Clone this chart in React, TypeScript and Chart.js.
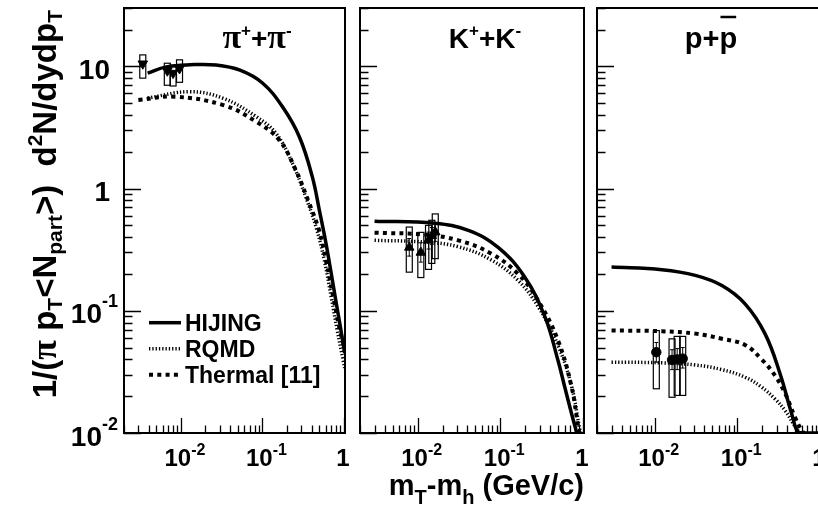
import React, { useEffect, useRef } from "react";
import { Chart, registerables } from "chart.js";

Chart.register(...registerables);

// ---------- axis ranges and ticks ----------
const X_MIN = 0.002;
const X_MAX = 1.03;
const Y_MIN = 0.01;
const Y_MAX = 30;

const xTickValues = [0.01, 0.1, 1];
const xTickBase = ["10", "10", "1"];
const xTickSup = ["-2", "-1", ""];
const yTickValues = [0.01, 0.1, 1, 10];
const yTickBase = ["10", "10", "1", "10"];
const yTickSup = ["-2", "-1", "", ""];

const seriesNames = ["HIJING", "RQMD", "Thermal [11]"];

// ---------- pi+ + pi- ----------
const piHijingX = [0.0039, 0.0066, 0.013, 0.027, 0.053, 0.1, 0.177, 0.285, 0.41, 0.5, 0.6, 0.7, 0.8, 0.9, 1.02];
const piHijingY = [8.8, 9.9, 10.3, 10.25, 9.3, 7.3, 4.64, 2.63, 1.24, 0.66, 0.36, 0.2, 0.118, 0.075, 0.045];
const piRqmdX = [0.0039, 0.0129, 0.033, 0.084, 0.147, 0.234, 0.34, 0.459, 0.575, 0.7, 0.828, 0.98, 1.02];
const piRqmdY = [5.5, 6.2, 5.47, 3.87, 2.82, 1.6, 0.853, 0.473, 0.258, 0.128, 0.069, 0.039, 0.034];
const piThermX = [0.003, 0.0083, 0.033, 0.084, 0.161, 0.257, 0.374, 0.495, 0.608, 0.741, 0.877, 0.995];
const piThermY = [5.3, 5.64, 4.82, 3.52, 2.49, 1.41, 0.76, 0.455, 0.249, 0.129, 0.073, 0.052];
const piDataX = [0.0034, 0.0068, 0.008, 0.0096];
const piDataY = [10.5, 9.2, 8.8, 9.6];
const piSysLo = [8.0, 7.0, 6.9, 7.4];
const piSysHi = [12.4, 10.6, 10.2, 11.3];

// ---------- K+ + K- ----------
const kHijingX = [0.003, 0.016, 0.041, 0.094, 0.198, 0.347, 0.5, 0.6, 0.73, 0.85];
const kHijingY = [0.54, 0.52, 0.455, 0.33, 0.188, 0.089, 0.039, 0.024, 0.0143, 0.0098];
const kRqmdX = [0.003, 0.012, 0.031, 0.078, 0.164, 0.287, 0.5, 0.73, 0.92, 0.95];
const kRqmdY = [0.377, 0.365, 0.334, 0.26, 0.177, 0.108, 0.052, 0.024, 0.0105, 0.0098];
const kThermX = [0.003, 0.012, 0.031, 0.078, 0.164, 0.287, 0.5, 0.73, 0.88, 0.92];
const kThermY = [0.435, 0.42, 0.377, 0.293, 0.2, 0.121, 0.057, 0.0237, 0.011, 0.0097];
const kDataX = [0.0079, 0.0109, 0.0135, 0.0148, 0.0163];
const kDataY = [0.33, 0.3, 0.377, 0.41, 0.44];
const kSysLo = [0.207, 0.187, 0.218, 0.244, 0.267];
const kSysHi = [0.484, 0.438, 0.5, 0.55, 0.62];
const kStatLo = [0.28, 0.25, 0.32, 0.35, 0.37];
const kStatHi = [0.39, 0.36, 0.44, 0.48, 0.52];

// ---------- p + pbar ----------
const pHijingX = [0.003, 0.0122, 0.031, 0.065, 0.124, 0.216, 0.329, 0.456, 0.548, 0.7, 1.0, 1.2];
const pHijingY = [0.228, 0.217, 0.195, 0.161, 0.114, 0.065, 0.0305, 0.0143, 0.0101, 0.01, 0.01, 0.01];
const pRqmdX = [0.003, 0.0122, 0.031, 0.065, 0.124, 0.197, 0.286, 0.38, 0.5, 0.57, 0.62];
const pRqmdY = [0.038, 0.0375, 0.036, 0.033, 0.0286, 0.0237, 0.019, 0.0152, 0.0113, 0.0101, 0.0099];
const pThermX = [0.003, 0.0122, 0.031, 0.065, 0.124, 0.197, 0.286, 0.38, 0.5, 0.6, 0.65];
const pThermY = [0.069, 0.068, 0.065, 0.059, 0.0525, 0.04, 0.0295, 0.021, 0.0134, 0.0105, 0.0099];
const pDataX = [0.01045, 0.0162, 0.0187, 0.0218];
const pDataY = [0.0458, 0.0396, 0.04, 0.0406];
const pSysLo = [0.023, 0.0196, 0.0203, 0.0203];
const pSysHi = [0.0689, 0.0589, 0.0617, 0.0617];
const pStatLo = [0.038, 0.033, 0.033, 0.034];
const pStatHi = [0.055, 0.048, 0.049, 0.05];

// ---------- text helpers ----------
const SANS = '"Liberation Sans", Arial, Helvetica, sans-serif';
const SERIF = '"Liberation Serif", "DejaVu Serif", serif';
type Part = { t: string; size: number; dy?: number; serif?: boolean };
const fontOf = (p: Part) => `bold ${p.size}px ${p.serif ? SERIF : SANS}`;
function partsWidth(ctx: CanvasRenderingContext2D, parts: Part[]) {
  let w = 0;
  for (const p of parts) {
    ctx.font = fontOf(p);
    w += ctx.measureText(p.t).width;
  }
  return w;
}
function drawParts(ctx: CanvasRenderingContext2D, parts: Part[], x: number, y: number, align: "left" | "center" | "right") {
  const w = partsWidth(ctx, parts);
  let cx = align === "left" ? x : align === "center" ? x - w / 2 : x - w;
  const spans: number[][] = [];
  ctx.textAlign = "left";
  ctx.textBaseline = "alphabetic";
  for (const p of parts) {
    ctx.font = fontOf(p);
    ctx.fillText(p.t, cx, y + (p.dy ?? 0));
    const pw = ctx.measureText(p.t).width;
    spans.push([cx, cx + pw]);
    cx += pw;
  }
  return spans;
}

const piTitle: Part[] = [
  { t: "π", size: 34, serif: true },
  { t: "+", size: 17, dy: -12 },
  { t: "+", size: 28 },
  { t: "π", size: 34, serif: true },
  { t: "-", size: 17, dy: -12 },
];
const kTitle: Part[] = [
  { t: "K", size: 28 },
  { t: "+", size: 17, dy: -12 },
  { t: "+", size: 28 },
  { t: "K", size: 28 },
  { t: "-", size: 17, dy: -12 },
];
const pTitle: Part[] = [
  { t: "p+", size: 29 },
  { t: "p", size: 29 },
];
const yTitle: Part[] = [
  { t: "1/(", size: 33 },
  { t: "π", size: 36, serif: true },
  { t: " p", size: 33 },
  { t: "T", size: 21, dy: 6 },
  { t: "<N", size: 33 },
  { t: "part", size: 21, dy: 6 },
  { t: ">)  d", size: 33 },
  { t: "2", size: 21, dy: -14 },
  { t: "N/dydp", size: 33 },
  { t: "T", size: 21, dy: 6 },
];
const xTitle: Part[] = [
  { t: "m", size: 29 },
  { t: "T", size: 20, dy: 9 },
  { t: "-m", size: 29 },
  { t: "h", size: 20, dy: 9 },
  { t: " (GeV/c)", size: 29 },
];

type Panel = {
  left: number;
  right: number;
  title: Part[];
  titleX: number;
  overlineLast: boolean;
  hx: number[]; hy: number[];
  rx: number[]; ry: number[];
  tx: number[]; ty: number[];
  dx: number[]; dy: number[];
  sysLo: number[]; sysHi: number[];
  statLo: number[] | null; statHi: number[] | null;
  marker: string; rot: number; markerR: number;
  yLabels: boolean; legend: boolean; yTitle: boolean; xTitle: boolean;
};

const PANELS: Panel[] = [
  {
    left: 124, right: 345, title: piTitle, titleX: 257, overlineLast: false,
    hx: piHijingX, hy: piHijingY, rx: piRqmdX, ry: piRqmdY, tx: piThermX, ty: piThermY,
    dx: piDataX, dy: piDataY, sysLo: piSysLo, sysHi: piSysHi, statLo: null, statHi: null,
    marker: "triangle", rot: 180, markerR: 5.5,
    yLabels: true, legend: true, yTitle: true, xTitle: false,
  },
  {
    left: 360, right: 584, title: kTitle, titleX: 485, overlineLast: false,
    hx: kHijingX, hy: kHijingY, rx: kRqmdX, ry: kRqmdY, tx: kThermX, ty: kThermY,
    dx: kDataX, dy: kDataY, sysLo: kSysLo, sysHi: kSysHi, statLo: kStatLo, statHi: kStatHi,
    marker: "triangle", rot: 0, markerR: 5.5,
    yLabels: false, legend: false, yTitle: false, xTitle: true,
  },
  {
    left: 597, right: 821, title: pTitle, titleX: 711, overlineLast: true,
    hx: pHijingX, hy: pHijingY, rx: pRqmdX, ry: pRqmdY, tx: pThermX, ty: pThermY,
    dx: pDataX, dy: pDataY, sysLo: pSysLo, sysHi: pSysHi, statLo: pStatLo, statHi: pStatHi,
    marker: "circle", rot: 0, markerR: 4.7,
    yLabels: false, legend: false, yTitle: false, xTitle: false,
  },
];

const CW = 830;
const CH = 512;
const TOP = 8;
const BOTTOM = 433;

function decorPlugin(p: Panel) {
  return {
    id: "decor",
    afterDatasetsDraw(chart: any) {
      const ctx: CanvasRenderingContext2D = chart.ctx;
      const xs = chart.scales.x;
      const ys = chart.scales.y;
      ctx.save();
      ctx.strokeStyle = "#000";
      ctx.lineWidth = 1.2;
      ctx.setLineDash([]);
      p.dx.forEach((xv, i) => {
        const px = xs.getPixelForValue(xv);
        const y1 = ys.getPixelForValue(p.sysHi[i]);
        const y2 = ys.getPixelForValue(p.sysLo[i]);
        ctx.strokeRect(px - 3, y1, 6, y2 - y1);
        if (p.statLo && p.statHi) {
          const s1 = ys.getPixelForValue(p.statHi[i]);
          const s2 = ys.getPixelForValue(p.statLo[i]);
          ctx.beginPath();
          ctx.lineWidth = 1;
          ctx.moveTo(px, s1); ctx.lineTo(px, s2);
          ctx.moveTo(px - 2, s1); ctx.lineTo(px + 2, s1);
          ctx.moveTo(px - 2, s2); ctx.lineTo(px + 2, s2);
          ctx.stroke();
          ctx.lineWidth = 1.2;
        }
      });
      ctx.restore();
    },
    afterDraw(chart: any) {
      const ctx: CanvasRenderingContext2D = chart.ctx;
      const { left, right, top, bottom } = chart.chartArea;
      const xs = chart.scales.x;
      const ys = chart.scales.y;
      ctx.save();
      ctx.strokeStyle = "#000";
      ctx.fillStyle = "#000";
      ctx.setLineDash([]);
      // ticks
      ctx.lineWidth = 1.3;
      ctx.beginPath();
      const xBases = [xTickValues[0] / 10, ...xTickValues];
      for (const b of xBases) {
        for (let m = 1; m <= 9; m++) {
          const v = m * b;
          if (v < X_MIN * 0.999 || v > X_MAX) continue;
          const px = Math.round(xs.getPixelForValue(v)) + 0.5;
          const len = m === 1 ? 15 : 7.5;
          ctx.moveTo(px, bottom);
          ctx.lineTo(px, bottom - len);
        }
      }
      for (const b of yTickValues) {
        for (let m = 1; m <= 9; m++) {
          const v = m * b;
          if (v < Y_MIN * 0.999 || v > Y_MAX * 1.001) continue;
          const py = Math.round(ys.getPixelForValue(v)) + 0.5;
          const len = m === 1 ? 17 : 8.5;
          ctx.moveTo(left, py);
          ctx.lineTo(left + len, py);
        }
      }
      ctx.stroke();
      // frame
      ctx.lineWidth = 2;
      ctx.strokeRect(left, top, right - left, bottom - top);

      // x tick labels
      xTickValues.forEach((v, i) => {
        const px = xs.getPixelForValue(v);
        const base: Part = { t: xTickBase[i], size: 24 };
        if (xTickSup[i]) {
          drawParts(ctx, [base, { t: xTickSup[i], size: 16, dy: -11 }], px - 16.5, bottom + 33, "left");
        } else {
          drawParts(ctx, [base], px - 1, bottom + 33, "center");
        }
      });
      // y tick labels
      if (p.yLabels) {
        yTickValues.forEach((v, i) => {
          const py = ys.getPixelForValue(v);
          const base: Part = { t: yTickBase[i], size: 28 };
          if (yTickSup[i]) {
            drawParts(ctx, [base, { t: yTickSup[i], size: 18, dy: -16 }], left - 6, py + 12.5, "right");
          } else {
            drawParts(ctx, [base], left - 14, py + 12.5, "right");
          }
        });
      }
      // panel title
      const spans = drawParts(ctx, p.title, p.titleX, 48, "center");
      if (p.overlineLast) {
        const s = spans[spans.length - 1];
        ctx.lineWidth = 2.5;
        ctx.beginPath();
        ctx.moveTo(s[0] + 1, 17);
        ctx.lineTo(s[1] - 1, 17);
        ctx.stroke();
      }
      // legend
      if (p.legend) {
        const rowsY = [322.7, 348.7, 374.7];
        const x0 = left + 25;
        const x1 = left + 57;
        [0, 1, 2].forEach((k) => {
          const ds = chart.data.datasets[k];
          ctx.save();
          ctx.lineWidth = ds.borderWidth;
          ctx.setLineDash(ds.borderDash || []);
          ctx.beginPath();
          ctx.moveTo(x0, rowsY[k]);
          ctx.lineTo(x1, rowsY[k]);
          ctx.stroke();
          ctx.restore();
          drawParts(ctx, [{ t: seriesNames[k], size: 23 }], x1 + 4, rowsY[k] + 8.5, "left");
        });
      }
      // y title
      if (p.yTitle) {
        ctx.save();
        ctx.translate(56, top + 2);
        ctx.rotate(-Math.PI / 2);
        drawParts(ctx, yTitle, 0, 0, "right");
        ctx.restore();
      }
      // x title
      if (p.xTitle) {
        drawParts(ctx, xTitle, right, 495, "right");
      }
      ctx.restore();
    },
  };
}

function buildConfig(p: Panel): any {
  const pts = (a: number[], b: number[]) => a.map((x, i) => ({ x, y: b[i] }));
  const curve = { pointRadius: 0, tension: 0.4, fill: false, borderColor: "#000" };
  return {
    type: "line",
    data: {
      datasets: [
        { ...curve, label: seriesNames[0], data: pts(p.hx, p.hy), borderWidth: 3.5 },
        { ...curve, label: seriesNames[1], data: pts(p.rx, p.ry), borderWidth: 3.5, borderDash: [1.3, 2] },
        { ...curve, label: seriesNames[2], data: pts(p.tx, p.ty), borderWidth: 4, borderDash: [4, 4.3] },
        {
          label: "data", data: pts(p.dx, p.dy), showLine: false, pointStyle: p.marker, rotation: p.rot,
          pointRadius: p.markerR, backgroundColor: "#000", borderColor: "#000", borderWidth: 1,
        },
      ],
    },
    options: {
      animation: false,
      responsive: false,
      events: [],
      layout: { padding: { left: p.left, right: CW - p.right, top: TOP, bottom: CH - BOTTOM } },
      scales: {
        x: { type: "logarithmic", min: X_MIN, max: X_MAX, display: false },
        y: { type: "logarithmic", min: Y_MIN, max: Y_MAX, display: false },
      },
      plugins: { legend: { display: false }, tooltip: { enabled: false } },
    },
    plugins: [decorPlugin(p)],
  };
}

export default function App() {
  const r0 = useRef<HTMLCanvasElement>(null);
  const r1 = useRef<HTMLCanvasElement>(null);
  const r2 = useRef<HTMLCanvasElement>(null);
  const refs = [r0, r1, r2];
  useEffect(() => {
    const charts = PANELS.map((p, i) => new Chart(refs[i].current as HTMLCanvasElement, buildConfig(p)));
    return () => charts.forEach((c) => c.destroy());
  }, []);
  return (
    <div style={{ position: "fixed", left: 0, top: 0, width: 818, height: 512, overflow: "hidden", background: "#fff" }}>
      {refs.map((r, i) => (
        <canvas key={i} ref={r} width={CW} height={CH} style={{ position: "absolute", left: 0, top: 0, width: CW, height: CH }} />
      ))}
    </div>
  );
}
